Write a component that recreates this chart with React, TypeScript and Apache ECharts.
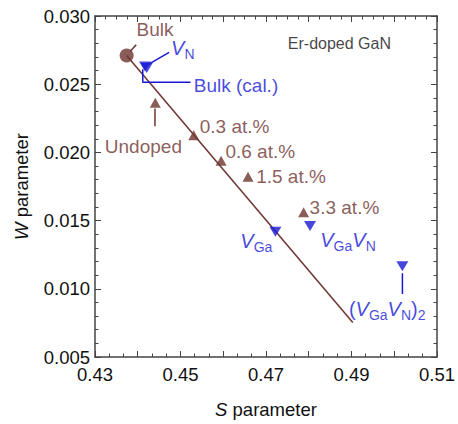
import React, { useEffect, useRef } from 'react';
import * as echarts from 'echarts';

const BROWN = '#6e3430';
const BLUE = '#1818d4';
const FONT = '"Liberation Sans", Arial, sans-serif';

// axis ticks
const xTickLabels = ['0.43', '0.45', '0.47', '0.49', '0.51'];
const yTickLabels = ['0.005', '0.010', '0.015', '0.020', '0.025', '0.030'];

// experimental bulk
const bulkS = [0.4374];
const bulkW = [0.0271];

// Er-doped GaN (experiment)
const dopedNames = ['Undoped', '0.3 at.%', '0.6 at.%', '1.5 at.%', '3.3 at.%'];
const dopedS = [0.4441, 0.4531, 0.4595, 0.4658, 0.4788];
const dopedW = [0.02364, 0.02126, 0.01938, 0.01822, 0.01562];

// calculated
const calcNames = ['Bulk (cal.)', 'VN', 'VGa', 'VGaVN', '(VGaVN)2'];
const calcS = [0.4417, 0.4421, 0.4722, 0.4803, 0.5019];
const calcW = [0.0263, 0.02618, 0.01418, 0.01461, 0.01165];

// fitted line
const fitS = [0.4374, 0.4903];
const fitW = [0.0271, 0.00753];

// annotation texts (anchor = left/middle in data coords)
const annoTexts = [
  '{b|Bulk}',
  '{bi|V}{bs|N}',
  '{b2|Bulk (cal.)}',
  '{r|Undoped}',
  '{r|0.3 at.%}',
  '{r|0.6 at.%}',
  '{r|1.5 at.%}',
  '{r|3.3 at.%}',
  '{bi|V}{bs|Ga}',
  '{bi|V}{bs|Ga}{bi|V}{bs|N}',
  '{bn|(}{bi|V}{bs|Ga}{bi|V}{bs|N}{bn|)}{bs|2}',
  '{k|Er-doped GaN}',
];
const annoS = [0.4397, 0.4478, 0.4531, 0.4323, 0.4545, 0.4605, 0.4677, 0.4802, 0.4640, 0.4827, 0.4894, 0.4751];
const annoW = [0.02899, 0.02752, 0.02494, 0.02046, 0.02191, 0.0201, 0.01822, 0.01598, 0.01343, 0.0135, 0.00844, 0.02798];

// leader lines (pairs / polylines in data coords)
const leaderBulk = { s: [0.43825, 0.43964], w: [0.02742, 0.0279], color: BROWN };
const leaderVN = { s: [0.44249, 0.44734], w: [0.02646, 0.02733], color: BLUE };
const leaderCal = { s: [0.44117, 0.44117, 0.45236], w: [0.0261, 0.02514, 0.02514], color: BLUE };
const leaderUndoped = { s: [0.44403, 0.44403], w: [0.02321, 0.02191], color: BROWN };
const leaderDiv = { s: [0.50191, 0.50191], w: [0.01114, 0.00962], color: BLUE };
const leaders = [leaderBulk, leaderVN, leaderCal, leaderUndoped, leaderDiv];

const zip = (a: number[], b: number[]) => a.map((v, i) => [v, b[i]]);

export default function App() {
  const ref = useRef<HTMLDivElement>(null);
  useEffect(() => {
    if (!ref.current) return;
    const chart = echarts.init(ref.current, undefined, { renderer: 'svg' });
    const axisLine = { show: true, lineStyle: { color: '#444', width: 1.5 } };
    const rich = {
      b: { fontSize: 19, color: BROWN, fontFamily: FONT },
      r: { fontSize: 19, color: BROWN, fontFamily: FONT },
      b2: { fontSize: 19, color: BLUE, fontFamily: FONT },
      bi: { fontSize: 20, color: BLUE, fontFamily: FONT, fontStyle: 'italic', verticalAlign: 'top', lineHeight: 20 },
      bn: { fontSize: 20, color: BLUE, fontFamily: FONT, verticalAlign: 'top', lineHeight: 20 },
      bs: { fontSize: 14, color: BLUE, fontFamily: FONT, verticalAlign: 'bottom', lineHeight: 23 },
      k: { fontSize: 16, color: '#111', fontFamily: FONT },
    };
    const xFmt = (v: number) => {
      const k = Math.round((v - 0.43) / 0.01);
      return k % 2 === 0 ? xTickLabels[k / 2] ?? '' : '';
    };
    const yFmt = (v: number) => {
      const k = Math.round((v - 0.005) / 0.005);
      return yTickLabels[k] ?? '';
    };
    const tick = { inside: true, length: 6, lineStyle: { color: '#444' } };
    chart.setOption({
      animation: false,
      grid: { left: 95, right: 17, top: 16, bottom: 62, containLabel: false },
      xAxis: [
        {
          type: 'value', min: 0.43, max: 0.51, interval: 0.01,
          axisLine, splitLine: { show: false }, axisTick: tick,
          minorTick: { show: true, splitNumber: 3, length: 3.5, lineStyle: { color: '#444' } },
          axisLabel: { formatter: xFmt, fontSize: 18.5, color: '#111', fontFamily: FONT, margin: 8, showMinLabel: true, showMaxLabel: true },
          name: '{i|S} parameter', nameLocation: 'middle', nameGap: 43,
          nameTextStyle: { fontSize: 18.5, color: '#111', fontFamily: FONT, rich: { i: { fontStyle: 'italic', fontSize: 18.5, color: '#111', fontFamily: FONT } } },
        },
        {
          type: 'value', position: 'top', min: 0.43, max: 0.51, interval: 0.01,
          axisLine, splitLine: { show: false }, axisTick: tick,
          minorTick: { show: true, splitNumber: 4, length: 3.5, lineStyle: { color: '#444' } },
          axisLabel: { show: false },
        },
      ],
      yAxis: [
        {
          type: 'value', min: 0.005, max: 0.03, interval: 0.005,
          axisLine, splitLine: { show: false }, axisTick: tick,
          minorTick: { show: true, splitNumber: 5, length: 3.5, lineStyle: { color: '#444' } },
          axisLabel: { formatter: yFmt, fontSize: 18.5, color: '#111', fontFamily: FONT, margin: 5 },
          name: '{i|W} parameter', nameLocation: 'middle', nameGap: 64,
          nameTextStyle: { fontSize: 18.5, color: '#111', fontFamily: FONT, rich: { i: { fontStyle: 'italic', fontSize: 18.5, color: '#111', fontFamily: FONT } } },
        },
        {
          type: 'value', position: 'right', min: 0.005, max: 0.03, interval: 0.005,
          axisLine, splitLine: { show: false }, axisTick: tick,
          minorTick: { show: true, splitNumber: 5, length: 3.5, lineStyle: { color: '#444' } },
          axisLabel: { show: false },
        },
      ],
      series: [
        {
          type: 'line', data: zip(fitS, fitW), symbol: 'none', silent: true,
          lineStyle: { color: BROWN, width: 1.5 }, z: 2,
        },
        ...leaders.map((l) => ({
          type: 'line', data: zip(l.s, l.w), symbol: 'none', silent: true,
          lineStyle: { color: l.color, width: 1.5 }, z: 2,
        })),
        {
          type: 'scatter', data: zip(bulkS, bulkW), symbol: 'circle', symbolSize: 14,
          itemStyle: { color: BROWN }, z: 3,
        },
        {
          type: 'scatter', name: 'doped', data: dopedNames.map((n, i) => ({ name: n, value: [dopedS[i], dopedW[i]] })),
          symbol: 'triangle', symbolSize: [11, 10], itemStyle: { color: BROWN }, z: 3,
        },
        {
          type: 'scatter', name: 'calc', data: calcNames.map((n, i) => ({ name: n, value: [calcS[i], calcW[i]] })),
          symbol: 'triangle', symbolRotate: 180, symbolSize: [12, 10], itemStyle: { color: BLUE }, z: 3,
        },
        {
          type: 'scatter', silent: true, symbolSize: 0, z: 4,
          data: annoTexts.map((t, i) => ({ value: [annoS[i], annoW[i]], label: { formatter: t } })),
          label: { show: true, position: [0, 0], align: 'left', verticalAlign: 'middle', rich },
        },
      ],
    });
    return () => chart.dispose();
  }, []);
  return <div ref={ref} style={{ width: 458, height: 424, position: 'absolute', left: 0, top: 0 }} />;
}
